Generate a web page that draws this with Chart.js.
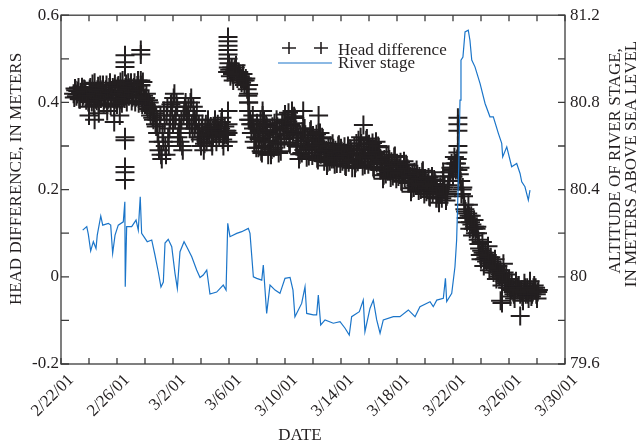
<!DOCTYPE html>
<html>
<head>
<meta charset="utf-8">
<script src="https://cdn.jsdelivr.net/npm/chart.js@4.4.0/dist/chart.umd.min.js"></script>
<style>
  body { margin: 0; background: #fff; }
  #wrap { width: 640px; height: 444px; }
</style>
</head>
<body>
<div id="wrap"><canvas id="myChart" width="640" height="444"></canvas></div>
<script>
// time is counted in days from 2/22/01 00:00
// head difference readings every 0.1 day (one row = one day) ...
const hdStart = 0.9
const hdStep = 0.1
const headDiff = [
  0.42, 0.432, 0.414, 0.426, 0.408, 0.423, 0.435, 0.417, 0.429, 0.405,
  0.412, 0.39, 0.434, 0.401, 0.423, 0.445, 0.407, 0.429, 0.396, 0.44,
  0.418, 0.44, 0.407, 0.429, 0.396, 0.423, 0.445, 0.412, 0.434, 0.39,
  0.417, 0.395, 0.439, 0.406, 0.428, 0.45, 0.412, 0.434, 0.401, 0.445,
  0.423, 0.445, 0.412, 0.434, 0.401, 0.428, 0.45, 0.417, 0.439, 0.395,
  0.415, 0.395, 0.42, 0.385, 0.40, 0.37, 0.39, 0.36, 0.375, 0.345,
  0.33, 0.29, 0.37, 0.27, 0.31, 0.35, 0.28, 0.39, 0.30, 0.36,
  0.40, 0.35, 0.42, 0.37, 0.39, 0.33, 0.31, 0.36, 0.29, 0.38,
  0.40, 0.36, 0.39, 0.34, 0.41, 0.33, 0.37, 0.35, 0.38, 0.32,
  0.33, 0.30, 0.35, 0.29, 0.34, 0.31, 0.36, 0.32, 0.345, 0.30,
  0.33, 0.36, 0.31, 0.35, 0.32, 0.34, 0.365, 0.30, 0.345, 0.325,
  0.47, 0.49, 0.46, 0.48, 0.45, 0.475, 0.485, 0.455, 0.47, 0.46,
  0.445, 0.465, 0.44, 0.455, 0.43, 0.40, 0.36, 0.33, 0.37, 0.31,
  0.32, 0.352, 0.296, 0.336, 0.288, 0.328, 0.36, 0.312, 0.344, 0.28,
  0.312, 0.28, 0.344, 0.296, 0.328, 0.36, 0.304, 0.336, 0.288, 0.352,
  0.34, 0.372, 0.324, 0.356, 0.308, 0.348, 0.38, 0.332, 0.364, 0.30,
  0.298, 0.27, 0.326, 0.284, 0.312, 0.34, 0.291, 0.319, 0.277, 0.333,
  0.298, 0.324, 0.285, 0.311, 0.272, 0.304, 0.33, 0.291, 0.317, 0.265,
  0.275, 0.255, 0.295, 0.265, 0.285, 0.305, 0.27, 0.29, 0.26, 0.30,
  0.275, 0.295, 0.265, 0.285, 0.255, 0.28, 0.30, 0.27, 0.29, 0.25,
  0.278, 0.25, 0.306, 0.264, 0.292, 0.32, 0.271, 0.299, 0.257, 0.313,
  0.278, 0.304, 0.265, 0.291, 0.252, 0.284, 0.31, 0.271, 0.297, 0.245,
  0.247, 0.225, 0.269, 0.236, 0.258, 0.28, 0.242, 0.264, 0.231, 0.275,
  0.24, 0.26, 0.23, 0.25, 0.22, 0.245, 0.265, 0.235, 0.255, 0.215,
  0.215, 0.195, 0.235, 0.205, 0.225, 0.245, 0.21, 0.23, 0.20, 0.24,
  0.205, 0.225, 0.195, 0.215, 0.185, 0.21, 0.23, 0.20, 0.22, 0.18,
  0.19, 0.17, 0.205, 0.18, 0.20, 0.21, 0.175, 0.195, 0.22, 0.24,
  0.26, 0.23, 0.275, 0.245, 0.27, 0.22, 0.25, 0.19, 0.205, 0.165,
  0.15, 0.125, 0.165, 0.11, 0.14, 0.095, 0.13, 0.10, 0.115, 0.085,
  0.065, 0.04, 0.08, 0.025, 0.055, 0.035, 0.07, 0.015, 0.045, 0.03,
  0.01, 0.04, -0.005, 0.025, 0.0, 0.015, -0.02, 0.03, -0.01, 0.005,
  -0.025, -0.005, -0.045, -0.015, -0.035, -0.05, -0.01, -0.03, -0.02, -0.04,
  -0.03, -0.055, -0.015, -0.04, -0.025, -0.05, -0.01, -0.045, -0.035, -0.02,
  -0.025, -0.05, -0.03
]
// ... and the readings taken in between, from 0.95 days on
const hdMidStart = 0.95
const headDiffMid = [
  0.411, 0.428, 0.419, 0.434, 0.407, 0.422, 0.413, 0.431, 0.425, 0.416,
  0.401, 0.431, 0.415, 0.442, 0.393, 0.42, 0.404, 0.437, 0.426, 0.409,
  0.429, 0.398, 0.418, 0.44, 0.407, 0.434, 0.393, 0.423, 0.409, 0.442,
  0.406, 0.436, 0.42, 0.447, 0.398, 0.425, 0.409, 0.442, 0.431, 0.414,
  0.434, 0.403, 0.423, 0.445, 0.412, 0.439, 0.398, 0.428, 0.414, 0.447,
  0.405, 0.41, 0.39, 0.405, 0.38, 0.39, 0.365, 0.38, 0.35, 0.36,
  0.31, 0.35, 0.28, 0.33, 0.38, 0.30, 0.37, 0.32, 0.34, 0.395,
  0.38, 0.41, 0.36, 0.40, 0.32, 0.35, 0.34, 0.30, 0.37, 0.39,
  0.38, 0.37, 0.36, 0.40, 0.35, 0.39, 0.34, 0.36, 0.33, 0.35,
  0.315, 0.34, 0.32, 0.305, 0.35, 0.325, 0.335, 0.34, 0.31, 0.32,
  0.345, 0.33, 0.34, 0.335, 0.33, 0.355, 0.315, 0.325, 0.335, 0.335,
  0.48, 0.475, 0.47, 0.465, 0.47, 0.48, 0.465, 0.46, 0.465, 0.455,
  0.455, 0.45, 0.45, 0.44, 0.415, 0.38, 0.35, 0.35, 0.34, 0.33,
  0.296, 0.34, 0.316, 0.356, 0.284, 0.324, 0.30, 0.348, 0.332, 0.308,
  0.336, 0.292, 0.32, 0.352, 0.304, 0.344, 0.284, 0.328, 0.308, 0.356,
  0.316, 0.36, 0.336, 0.376, 0.304, 0.344, 0.32, 0.368, 0.352, 0.328,
  0.319, 0.281, 0.305, 0.333, 0.291, 0.326, 0.274, 0.312, 0.295, 0.337,
  0.278, 0.314, 0.294, 0.327, 0.268, 0.301, 0.281, 0.32, 0.307, 0.288,
  0.29, 0.263, 0.28, 0.30, 0.27, 0.295, 0.258, 0.285, 0.273, 0.303,
  0.26, 0.288, 0.273, 0.298, 0.253, 0.278, 0.263, 0.293, 0.283, 0.268,
  0.299, 0.261, 0.285, 0.313, 0.271, 0.306, 0.254, 0.292, 0.275, 0.317,
  0.258, 0.294, 0.274, 0.307, 0.248, 0.281, 0.261, 0.30, 0.287, 0.268,
  0.264, 0.233, 0.253, 0.275, 0.242, 0.269, 0.228, 0.258, 0.244, 0.277,
  0.225, 0.253, 0.238, 0.263, 0.218, 0.243, 0.228, 0.258, 0.248, 0.233,
  0.23, 0.203, 0.22, 0.24, 0.21, 0.235, 0.198, 0.225, 0.213, 0.243,
  0.19, 0.218, 0.203, 0.228, 0.183, 0.208, 0.193, 0.223, 0.213, 0.198,
  0.18, 0.19, 0.19, 0.19, 0.205, 0.19, 0.185, 0.21, 0.23, 0.25,
  0.245, 0.25, 0.26, 0.26, 0.245, 0.235, 0.22, 0.20, 0.185, 0.155,
  0.135, 0.145, 0.14, 0.125, 0.12, 0.11, 0.115, 0.11, 0.10, 0.075,
  0.05, 0.06, 0.055, 0.04, 0.045, 0.05, 0.045, 0.03, 0.035, 0.02,
  0.025, 0.02, 0.01, 0.015, 0.005, 0.0, 0.005, 0.01, -0.015, -0.01,
  -0.015, -0.025, -0.03, -0.025, -0.04, -0.03, -0.02, -0.025, -0.03, -0.035,
  -0.045, -0.035, -0.025, -0.035, -0.04, -0.03, -0.03, -0.04, -0.025, -0.03,
  -0.04, -0.035
]
// scattered readings that stand apart from the main band
const hdExtraDays = [2.0, 2.4, 2.7, 3.3, 3.8, 4.2,
  4.57, 4.57, 4.57, 4.57, 4.57, 4.57, 4.57, 4.57,
  5.7, 5.7, 5.7, 5.7,
  11.93, 11.93, 11.93, 11.93, 11.93, 11.93, 11.93, 11.93, 11.93, 11.93,
  13.4, 13.4, 13.4, 13.4, 13.4, 14.4, 14.4, 17.3, 17.3, 18.4, 18.4, 21.6,
  27.3, 27.3, 27.3, 28.35, 28.35, 28.35, 28.35, 28.35, 31.4, 31.5, 32.8]
const hdExtraValues = [0.37, 0.36, 0.375, 0.38, 0.355, 0.37,
  0.508, 0.492, 0.481, 0.32, 0.313, 0.252, 0.24, 0.222,
  0.52, 0.51, 0.45, 0.44,
  0.55, 0.54, 0.53, 0.52, 0.51, 0.50, 0.38, 0.35, 0.33, 0.31,
  0.44, 0.42, 0.40, 0.38, 0.36, 0.38, 0.37, 0.38, 0.34, 0.37, 0.33, 0.348,
  0.24, 0.23, 0.21, 0.365, 0.35, 0.335, 0.30, 0.285, -0.055, -0.06, -0.09]

const stageDays = [
  1.55, 1.84, 1.95, 2.12, 2.31, 2.5, 2.59, 2.84, 2.98, 3.38,
  3.55, 3.69, 3.86, 4.09, 4.45, 4.56, 4.59, 4.69, 5.05, 5.36,
  5.52, 5.66, 5.76, 6.16, 6.48, 6.71, 6.95, 7.14, 7.31, 7.43,
  7.66, 7.91, 8.14, 8.31, 8.5, 8.79, 8.98, 9.34, 9.69, 9.93,
  10.16, 10.41, 10.64, 11.12, 11.59, 11.79, 11.91, 12.07, 12.55, 12.91,
  13.38, 13.5, 13.74, 13.98, 14.34, 14.45, 14.69, 14.93, 15.29, 15.64,
  16.0, 16.36, 16.57, 16.71, 17.19, 17.43, 17.55, 18.02, 18.26, 18.38,
  18.55, 18.86, 19.45, 19.93, 20.29, 20.59, 20.76, 21.31, 21.59, 21.71,
  22.07, 22.31, 22.55, 22.79, 23.02, 23.74, 24.21, 24.81, 25.29, 25.64,
  26.36, 26.59, 26.84, 27.31, 27.46, 27.55, 27.91, 28.14, 28.26, 28.41,
  28.5, 28.57, 28.71, 28.86, 29.09, 29.21, 29.34, 29.57, 29.93, 30.29,
  30.64, 30.88, 31.24, 31.48, 31.55, 31.84, 32.19, 32.55, 32.79, 32.91,
  33.14, 33.38, 33.5
]
const stageValues = [
  80.214, 80.230, 80.196, 80.119, 80.161, 80.130, 80.191, 80.279, 80.237, 80.245,
  80.237, 80.108, 80.191, 80.237, 80.252, 80.344, 79.954, 80.230, 80.230, 80.260,
  80.214, 80.367, 80.199, 80.161, 80.169, 80.100, 80.022, 79.953, 79.976, 80.155,
  80.172, 80.138, 80.017, 79.947, 80.115, 80.161, 80.138, 80.092, 80.031, 79.997,
  80.008, 80.031, 79.921, 79.930, 79.962, 79.939, 80.245, 80.184, 80.199, 80.207,
  80.222, 80.199, 80.000, 79.993, 79.985, 80.054, 79.832, 79.962, 79.939, 79.924,
  79.993, 79.997, 79.939, 79.817, 79.878, 79.954, 79.832, 79.825, 79.825, 79.916,
  79.779, 79.802, 79.787, 79.794, 79.764, 79.733, 79.817, 79.840, 79.893, 79.748,
  79.855, 79.893, 79.802, 79.741, 79.802, 79.817, 79.817, 79.848, 79.817, 79.863,
  79.886, 79.863, 79.893, 79.901, 79.993, 79.886, 79.924, 80.046, 80.169, 80.505,
  80.810, 80.994, 81.008, 81.123, 81.131, 81.085, 80.994, 80.963, 80.887, 80.795,
  80.734, 80.734, 80.658, 80.612, 80.550, 80.596, 80.505, 80.520, 80.474, 80.436,
  80.413, 80.352, 80.398
]

const dateLabelDays = [0, 4, 8, 12, 16, 20, 24, 28, 32, 36]
const leftLabels = [-0.2, 0, 0.2, 0.4, 0.6]
const rightLabels = [79.6, 80, 80.4, 80.8, 81.2]

const ink = '#231f20'
const blue = '#1b75c9'
const serif = 'Liberation Serif'

function dateText(day){
  var d = new Date(2001, 1, 22 + day)
  return (d.getMonth() + 1) + '/' + d.getDate() + '/01'
}

function pickLabel(list, v){
  var hit = list.find(t => Math.abs(t - v) < 1e-6)
  return hit === undefined ? '' : String(hit)
}

var hdPoints = headDiff.map((v, i) => ({ x: hdStart + i * hdStep, y: v }))
headDiffMid.forEach((v, i) => hdPoints.push({ x: hdMidStart + i * hdStep, y: v }))
hdExtraDays.forEach((d, i) => hdPoints.push({ x: d, y: hdExtraValues[i] }))
var stagePoints = stageDays.map((d, i) => ({ x: d, y: stageValues[i] }))

// box, inward ticks, legend and axis titles
const framePlugin = {
  id: 'frame',
  afterDatasetsDraw(chart){
    const ctx = chart.ctx
    const a = chart.chartArea
    const sx = chart.scales.x, sy = chart.scales.y, sy2 = chart.scales.y2
    ctx.save()
    ctx.strokeStyle = '#3b3b3b'
    ctx.lineWidth = 1.3
    ctx.strokeRect(a.left, a.top, a.right - a.left, a.bottom - a.top)
    ctx.beginPath()
    sx.ticks.forEach(t => {
      var px = sx.getPixelForValue(t.value)
      ctx.moveTo(px, a.bottom); ctx.lineTo(px, a.bottom - 6)
      ctx.moveTo(px, a.top); ctx.lineTo(px, a.top + 6)
    })
    sy.ticks.forEach(t => {
      var py = sy.getPixelForValue(t.value)
      ctx.moveTo(a.left, py); ctx.lineTo(a.left + 8, py)
    })
    sy2.ticks.forEach(t => {
      var py = sy2.getPixelForValue(t.value)
      ctx.moveTo(a.right, py); ctx.lineTo(a.right - 7, py)
    })
    ctx.stroke()
    ctx.restore()
  },
  afterDraw(chart){
    const ctx = chart.ctx
    const ds = chart.data.datasets
    ctx.save()
    ctx.fillStyle = ink
    ctx.font = '17px "' + serif + '"'
    ctx.textBaseline = 'alphabetic'
    ctx.textAlign = 'left'

    // legend
    ctx.strokeStyle = ink
    ctx.lineWidth = 1.6
    ctx.beginPath()
    ;[289, 321].forEach(cx => {
      ctx.moveTo(cx - 7, 48); ctx.lineTo(cx + 7, 48)
      ctx.moveTo(cx, 42); ctx.lineTo(cx, 54)
    })
    ctx.stroke()
    ctx.strokeStyle = blue
    ctx.lineWidth = 1.2
    ctx.beginPath()
    ctx.moveTo(278, 63); ctx.lineTo(332, 63)
    ctx.stroke()
    ctx.fillText(ds[1].label, 338, 55)
    ctx.fillText(ds[0].label, 338, 68)

    // axis titles
    ctx.textAlign = 'center'
    ctx.textBaseline = 'middle'
    ctx.fillText('DATE', 300, 436)

    ctx.save()
    ctx.translate(17, 179)
    ctx.rotate(-Math.PI / 2)
    ctx.fillText('HEAD DIFFERENCE, IN METERS', 0, 0)
    ctx.restore()

    ctx.save()
    ctx.translate(616, 161)
    ctx.rotate(-Math.PI / 2)
    ctx.fillText('ALTITUDE OF RIVER STAGE,', 0, 0)
    ctx.fillText('IN METERS ABOVE SEA LEVEL', -3, 16)
    ctx.restore()
    ctx.restore()
  }
}

var ctx = document.getElementById('myChart').getContext('2d')
var myChart = new Chart(ctx, {
  type: 'scatter',
  data: {
    datasets: [{
      label: 'River stage',
      data: stagePoints,
      yAxisID: 'y2',
      showLine: true,
      borderColor: blue,
      borderWidth: 1.2,
      pointRadius: 0,
      order: 0
    }, {
      label: 'Head difference',
      data: hdPoints,
      yAxisID: 'y',
      pointStyle: 'cross',
      pointRadius: 9.5,
      borderColor: ink,
      backgroundColor: ink,
      pointBorderWidth: 2,
      order: 1
    }]
  },
  plugins: [framePlugin],
  options: {
    responsive: false,
    animation: false,
    layout: { padding: { top: 15, left: 0, right: 0, bottom: 0 } },
    plugins: { legend: { display: false }, tooltip: { enabled: false } },
    scales: {
      x: {
        type: 'linear',
        min: 0,
        max: 36,
        grid: { display: false, drawTicks: false },
        border: { display: false },
        ticks: {
          stepSize: 2,
          autoSkip: false,
          maxRotation: 45,
          minRotation: 45,
          padding: 6,
          labelOffset: 10,
          color: ink,
          font: { family: serif, size: 17 },
          callback: v => dateLabelDays.includes(v) ? dateText(v) : ''
        },
        afterFit: s => { s.height = 80 }
      },
      y: {
        position: 'left',
        min: -0.2,
        max: 0.6,
        grid: { display: false, drawTicks: false },
        border: { display: false },
        ticks: {
          stepSize: 0.1,
          padding: 2,
          color: ink,
          font: { family: serif, size: 17 },
          callback: v => pickLabel(leftLabels, v)
        },
        afterFit: s => { s.width = 61 }
      },
      y2: {
        position: 'right',
        min: 79.6,
        max: 81.2,
        grid: { display: false, drawTicks: false },
        border: { display: false },
        ticks: {
          stepSize: 0.2,
          padding: 5,
          color: ink,
          font: { family: serif, size: 17 },
          callback: v => pickLabel(rightLabels, v)
        },
        afterFit: s => { s.width = 75 }
      }
    }
  }
})
</script>
</body>
</html>
